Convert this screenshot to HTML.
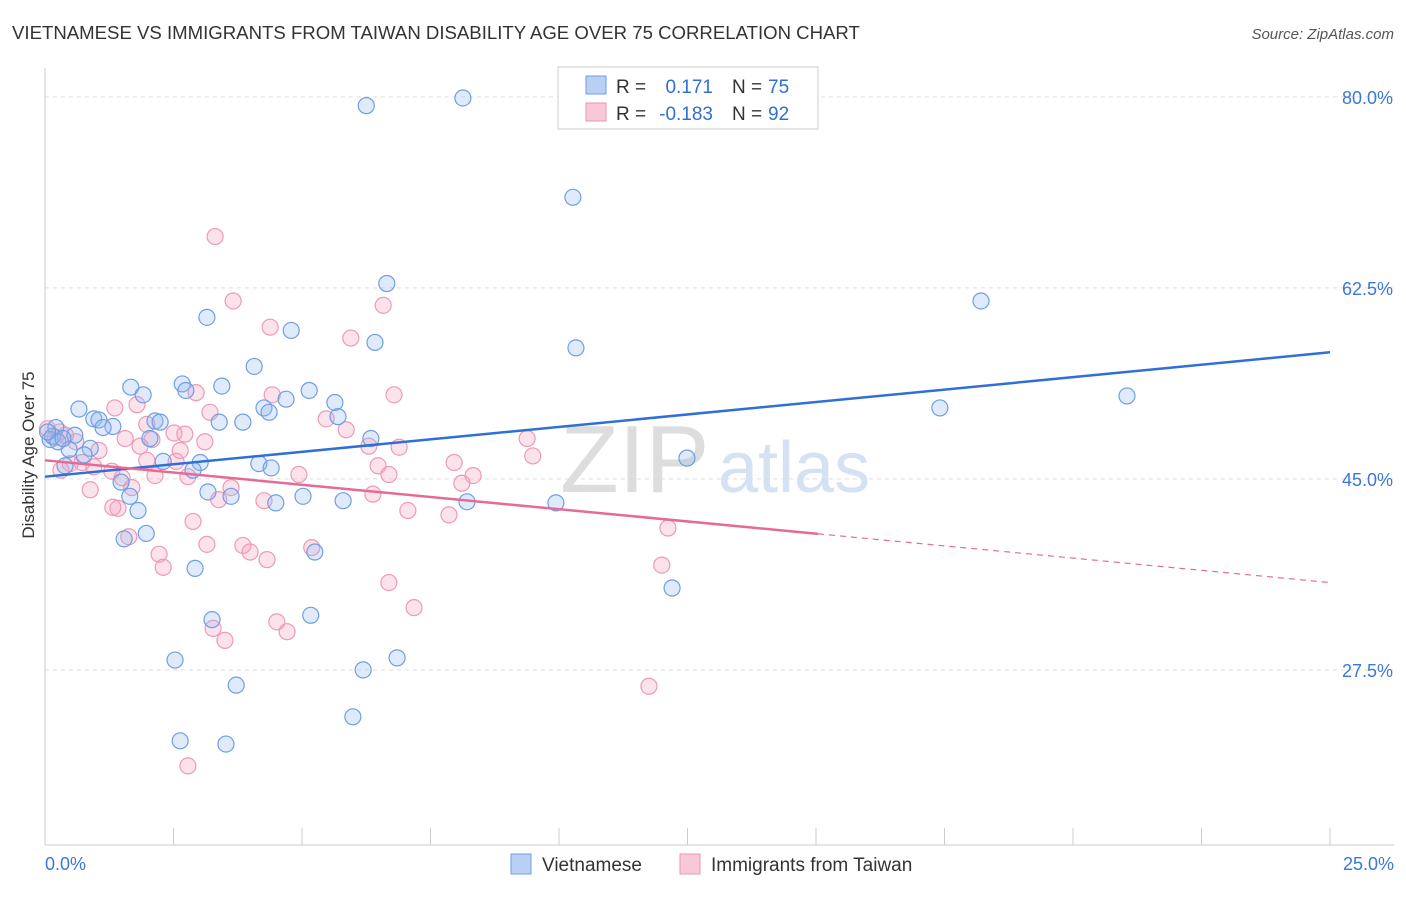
<!DOCTYPE html>
<html><head><meta charset="utf-8"><style>
body{margin:0;background:#fff;font-family:"Liberation Sans",sans-serif}
svg text{font-family:"Liberation Sans",sans-serif}
</style></head><body>
<svg id="c" width="1406" height="892">
<text x="12" y="39" font-size="18.6" fill="#333">VIETNAMESE VS IMMIGRANTS FROM TAIWAN DISABILITY AGE OVER 75 CORRELATION CHART</text>
<text x="1394" y="39" font-size="15" fill="#555" font-style="italic" text-anchor="end">Source: ZipAtlas.com</text>
<text x="34" y="455" font-size="17" fill="#333" transform="rotate(-90 34 455)" text-anchor="middle">Disability Age Over 75</text>
<text x="560" y="492" font-size="96" fill="#ddd" font-family="Liberation Serif">ZIP</text>
<text x="718" y="492" font-size="72" fill="#d4e2f4">atlas</text>
<g id="grid"></g><g id="pts"></g><g id="lines"></g>
<g>
<rect x="558" y="67" width="260" height="62" fill="#fff" stroke="#ccc"/>
<rect x="586" y="76" width="20" height="18" fill="#b8d0f4" stroke="#6f9ee6"/>
<rect x="586" y="103" width="20" height="18" fill="#f9c8d7" stroke="#ea94b0"/>
<text x="616" y="93" font-size="19" fill="#333">R =</text>
<text x="713" y="93" font-size="19" fill="#2f6fd6" text-anchor="end">0.171</text>
<text x="732" y="93" font-size="19" fill="#333">N =</text>
<text x="768" y="93" font-size="19" fill="#2f6fd6">75</text>
<text x="616" y="120" font-size="19" fill="#333">R =</text>
<text x="713" y="120" font-size="19" fill="#2f6fd6" text-anchor="end">-0.183</text>
<text x="732" y="120" font-size="19" fill="#333">N =</text>
<text x="768" y="120" font-size="19" fill="#2f6fd6">92</text>
</g>
<g>
<rect x="511" y="854" width="20" height="20" fill="#b8d0f4" stroke="#6f9ee6"/>
<text x="542" y="871" font-size="19" fill="#333">Vietnamese</text>
<rect x="680" y="854" width="20" height="20" fill="#f9c8d7" stroke="#ea94b0"/>
<text x="711" y="871" font-size="19" fill="#333">Immigrants from Taiwan</text>
</g>
</svg>
<script>
const yTicks=[27.5,45.0,62.5,80.0];
const xTickLabels=["0.0%","25.0%"];
const blueX=[6.25,8.13,10.27,6.65,18.21,3.15,4.79,6.42,10.33,4.07,1.67,2.67,3.44,1.91,2.74,5.14,4.69,5.64,21.05,17.41,0.66,4.26,4.36,5.70,0.95,1.05,2.14,2.24,3.39,3.85,1.32,1.13,0.21,0.58,2.04,6.34,0.10,0.88,0.47,0.76,12.49,2.30,3.02,4.16,4.40,2.88,0.39,1.48,1.65,3.17,3.62,5.02,4.49,5.80,8.21,9.94,1.81,1.97,1.54,5.25,2.92,12.20,5.17,3.25,2.53,6.85,6.19,3.72,5.99,2.63,3.52,0.15,0.25,0.35,0.05];
const blueY=[79.2,79.9,70.8,62.9,61.3,59.8,58.6,57.5,57.0,55.3,53.4,53.7,53.5,52.7,53.1,53.1,52.3,52.0,52.6,51.5,51.4,51.5,51.1,50.7,50.5,50.4,50.3,50.2,50.2,50.2,49.8,49.7,49.7,49.0,48.7,48.7,48.6,47.8,47.7,47.2,46.9,46.6,46.5,46.4,46.0,45.8,46.2,44.7,43.4,43.8,43.4,43.4,42.8,43.0,42.9,42.8,42.1,40.0,39.5,38.3,36.8,35.0,32.5,32.1,28.4,28.6,27.5,26.1,23.2,21.0,20.7,48.9,48.4,48.7,49.3];
const pinkX=[3.31,3.66,6.58,4.38,5.95,4.42,6.79,2.94,1.79,1.36,3.21,5.47,1.98,2.72,5.86,2.51,0.29,1.56,3.11,2.08,9.38,6.30,6.89,1.85,2.63,1.05,9.49,2.55,0.72,1.98,7.96,0.49,6.48,0.95,1.30,0.31,4.94,8.33,6.69,2.78,2.14,1.50,8.11,3.62,0.88,1.69,6.38,4.26,3.38,1.42,1.32,7.06,7.86,2.88,1.63,12.12,3.15,3.85,5.19,3.99,4.32,2.22,2.30,12.00,6.69,7.18,4.51,3.27,4.71,3.50,11.75,2.78,0.05,0.2,0.4,0.6];
const pinkY=[67.2,61.3,60.9,58.9,57.9,52.7,52.7,52.9,51.8,51.5,51.1,50.5,50.0,49.1,49.5,49.2,49.3,48.7,48.4,48.6,48.7,48.0,47.9,48.0,47.6,47.6,47.1,46.6,46.5,46.7,46.5,46.4,46.2,46.1,45.7,45.8,45.4,45.3,45.4,45.2,45.3,45.1,44.6,44.2,44.0,44.2,43.6,43.0,43.1,42.3,42.4,42.1,41.7,41.1,39.7,40.5,39.0,38.9,38.7,38.3,37.6,38.1,36.9,37.1,35.5,33.2,31.9,31.3,31.0,30.2,26.0,18.7,49.6,48.8,49.0,48.4];
const blueTrend=[45.2,56.6];
const pinkTrend=[46.7,35.5];
const X0=45,X1=1330;
const sx=v=>X0+(v/25)*(X1-X0);
const sy=v=>970-v*10.914;
const NS="http://www.w3.org/2000/svg";
function mk(tag,attrs,parent){const e=document.createElementNS(NS,tag);for(const k in attrs)e.setAttribute(k,attrs[k]);parent.appendChild(e);return e;}
const grid=document.getElementById('grid');
yTicks.forEach(t=>{
 const l=mk('line',{x1:45,x2:1394,y1:sy(t),y2:sy(t),stroke:'#ddd','stroke-dasharray':'4,4'},grid);
 
 
 const tx=mk('text',{x:1393,y:sy(t)+7,'font-size':18,fill:'#3b78d8','text-anchor':'end'},grid);
 tx.textContent=t.toFixed(1)+'%';
 
 
});
const ax=mk('line',{x1:45,x2:45,y1:68,y2:845,stroke:'#ccc'},grid);


const bx=mk('line',{x1:45,x2:1394,y1:845,y2:845,stroke:'#ccc'},grid);


for(let i=0;i<=10;i++){const x=X0+i*(X1-X0)/10;
 const tk=mk('line',{x1:x,x2:x,y1:828,y2:845,stroke:'#ccc'},grid);
 
 }
[[0,'start',45],[1,'end',1394]].forEach(([i,a,x])=>{
 const t=mk('text',{x:x,y:870,'font-size':18,fill:'#3b78d8','text-anchor':a},grid);
 t.textContent=xTickLabels[i];
 
 
});
const pts=document.getElementById('pts');
pinkX.forEach((v,i)=>{
 const c=mk('circle',{cx:sx(v),cy:sy(pinkY[i]),r:8,fill:'rgba(244,160,188,0.3)',stroke:'#ee9ab5','stroke-width':1.2},pts);
 
 
});
blueX.forEach((v,i)=>{
 const c=mk('circle',{cx:sx(v),cy:sy(blueY[i]),r:8,fill:'rgba(150,185,240,0.3)',stroke:'#6f9ee6','stroke-width':1.2},pts);
 
 
});
const lines=document.getElementById('lines');
const bl=mk('line',{x1:sx(0),y1:sy(blueTrend[0]),x2:sx(25),y2:sy(blueTrend[1]),stroke:'#2f6fd6','stroke-width':2.5},lines);


const f=(818-45)/(1330-45);
const pm=pinkTrend[0]+(pinkTrend[1]-pinkTrend[0])*f;
const pl=mk('line',{x1:sx(0),y1:sy(pinkTrend[0]),x2:sx(25*f),y2:sy(pm),stroke:'#e66a96','stroke-width':2.5},lines);


const pd=mk('line',{x1:sx(25*f),y1:sy(pm),x2:sx(25),y2:sy(pinkTrend[1]),stroke:'#e66a96','stroke-width':1.2,'stroke-dasharray':'6,5'},lines);


</script>
</body></html>
